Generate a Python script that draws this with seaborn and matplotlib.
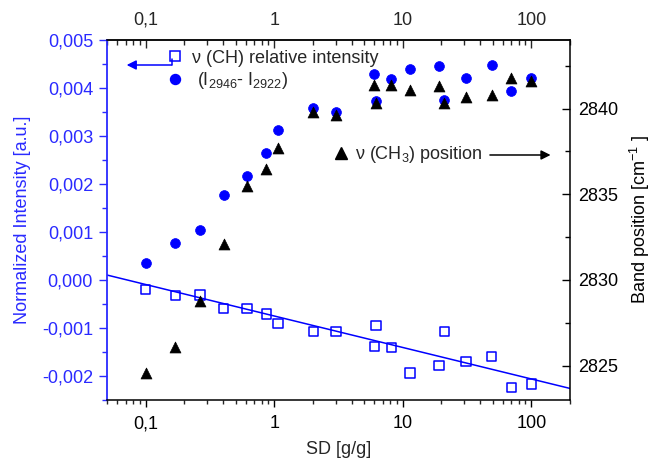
import numpy as np
import pandas as pd
import matplotlib
matplotlib.use("Agg")
import matplotlib.pyplot as plt
import seaborn as sns
from matplotlib.ticker import FixedLocator, FuncFormatter, LogLocator, MultipleLocator, NullFormatter
from matplotlib.lines import Line2D

# ---------------- data ----------------
sd = [0.1, 0.17, 0.265, 0.405, 0.614, 0.87, 1.07, 2.02, 3.02, 6.0, 6.2,
      8.16, 11.4, 19.1, 21.1, 31.0, 49.0, 70.0, 100.0]
intensity = [0.00035, 0.00078, 0.00104, 0.00177, 0.00217, 0.00265, 0.00312,
             0.00359, 0.00351, 0.00430, 0.00373, 0.00419, 0.00440, 0.00446,
             0.00374, 0.00421, 0.00447, 0.00394, 0.00421]
rel_intensity = [-0.00020, -0.00032, -0.00031, -0.00060, -0.00059, -0.00071,
                 -0.00090, -0.00108, -0.00108, -0.00138, -0.00095, -0.00140,
                 -0.00194, -0.00178, -0.00108, -0.00170, -0.00159, -0.00224,
                 -0.00217]
band_pos = [2824.6, 2826.1, 2828.8, 2832.1, 2835.5, 2836.5, 2837.7, 2839.8,
            2839.6, 2841.4, 2840.3, 2841.4, 2841.1, 2841.3, 2840.35, 2840.7,
            2840.8, 2841.8, 2841.6]
fit_slope = -0.000656      # per decade of SD
fit_intercept = -0.00075   # value at SD = 1
x_range = [0.05, 200]

x_tick_vals = [0.1, 1, 10, 100]
x_tick_labels = ["0,1", "1", "10", "100"]

BLUE = "#0000ff"
AXBLUE = "#2a2aff"
FS = 13

sns.set_style("ticks")
plt.rcParams["font.family"] = ["Liberation Sans", "DejaVu Sans"]
plt.rcParams["mathtext.fontset"] = "custom"
plt.rcParams["mathtext.rm"] = "Liberation Sans"
plt.rcParams["mathtext.it"] = "Liberation Sans:italic"
plt.rcParams["mathtext.bf"] = "Liberation Sans:bold"
plt.rcParams["font.size"] = FS

fig = plt.figure(figsize=(6.54, 4.67), dpi=100)
ax = fig.add_axes([0.1636, 0.1435, 0.7080, 0.7708])
ax2 = ax.twinx()

df = pd.DataFrame({"sd": sd, "int": intensity, "rel": rel_intensity, "band": band_pos})

# fit line
xf = np.array(x_range)
fit_df = pd.DataFrame({"x": xf, "y": fit_intercept + fit_slope * np.log10(xf)})
sns.lineplot(data=fit_df, x="x", y="y", ax=ax, color=BLUE, lw=1.1, zorder=2)

# open squares
sns.scatterplot(data=df, x="sd", y="rel", ax=ax, marker="s", s=45,
                color=BLUE, linewidth=1.1, zorder=3)
sq = ax.collections[-1]
sq.set_facecolor("none")
sq.set_edgecolor(BLUE)

# filled circles
sns.scatterplot(data=df, x="sd", y="int", ax=ax, marker="o", s=50,
                color=BLUE, edgecolor=BLUE, linewidth=0.5, zorder=3)

# triangles on right axis
sns.scatterplot(data=df, x="sd", y="band", ax=ax2, marker="^", s=62,
                color="black", edgecolor="black", linewidth=0.5, zorder=3)

# ---------------- axes ----------------
ax.set_xscale("log")
ax.set_xlim(*x_range)
ax.set_ylim(-0.0025, 0.005)
ax2.set_ylim(2823, 2844)

fmt_x = FuncFormatter(lambda v, p: x_tick_labels[x_tick_vals.index(v)] if v in x_tick_vals else "")
ax.xaxis.set_major_locator(FixedLocator(x_tick_vals))
ax.xaxis.set_major_formatter(fmt_x)
ax.xaxis.set_minor_locator(LogLocator(base=10, subs=np.arange(2, 10)))
ax.xaxis.set_minor_formatter(NullFormatter())

ax.yaxis.set_major_locator(MultipleLocator(0.001))
ax.yaxis.set_minor_locator(MultipleLocator(0.0005))
ax.yaxis.set_major_formatter(FuncFormatter(lambda v, p: f"{v:.3f}".replace(".", ",").replace("-0,000", "0,000")))

ax2.yaxis.set_major_locator(FixedLocator([2825, 2830, 2835, 2840]))
ax2.yaxis.set_minor_locator(MultipleLocator(2.5))

for s in ["top", "bottom", "right"]:
    ax.spines[s].set_color("black")
    ax.spines[s].set_linewidth(1.1)
ax.spines["left"].set_color(AXBLUE)
ax.spines["left"].set_linewidth(1.3)
ax.spines["right"].set_visible(False)
for s in ["left", "top", "bottom"]:
    ax2.spines[s].set_visible(False)
ax2.spines["right"].set_color("black")
ax2.spines["right"].set_linewidth(1.1)

ax.tick_params(axis="x", which="major", direction="out", length=5, width=1, pad=6, labelsize=FS, colors="black")
ax.tick_params(axis="x", which="minor", direction="out", length=3, width=1)
ax.tick_params(axis="y", which="major", direction="out", length=6, width=1, pad=4, labelsize=FS,
               colors=AXBLUE, right=False)
ax.tick_params(axis="y", which="minor", direction="out", length=3.5, width=1, colors=AXBLUE, right=False)

ax2.tick_params(axis="y", which="major", direction="in", length=6, width=1, pad=6, labelsize=FS, colors="black")
ax2.tick_params(axis="y", which="minor", direction="in", length=3.5, width=1, colors="black")

# top axis
top = ax.secondary_xaxis("top")
top.xaxis.set_major_locator(FixedLocator(x_tick_vals))
top.xaxis.set_major_formatter(fmt_x)
top.xaxis.set_minor_locator(LogLocator(base=10, subs=np.arange(2, 10)))
top.xaxis.set_minor_formatter(NullFormatter())
top.tick_params(axis="x", which="major", direction="in", length=6, width=1, pad=8, labelsize=FS)
top.tick_params(axis="x", which="minor", direction="in", length=3.5, width=1)
top.spines["top"].set_linewidth(1.1)

ax.set_xlabel("SD [g/g]", fontsize=FS)
ax.set_ylabel("Normalized Intensity [a.u.]", fontsize=FS, color=AXBLUE)
ax2.set_ylabel("Band position [cm$^{-1}$ ]", fontsize=FS, color="black")
ax.xaxis.set_label_coords(0.5, -0.115)
ax.yaxis.set_label_coords(-0.165, 0.5)
ax2.yaxis.set_label_coords(1.126, 0.5)

# ---------------- legends / annotations ----------------
h_sq = Line2D([], [], marker="s", ls="none", markersize=7, markerfacecolor="none",
              markeredgecolor=BLUE, markeredgewidth=1.1)
h_ci = Line2D([], [], marker="o", ls="none", markersize=7.2, markerfacecolor=BLUE,
              markeredgecolor=BLUE)
leg1 = ax.legend([h_sq, h_ci], ["\u03bd (CH) relative intensity", " (I$_{2946}$- I$_{2922}$)"],
                 loc="upper left", bbox_to_anchor=(0.133, 0.973), frameon=False,
                 fontsize=FS, handlelength=0.7, handletextpad=0.6, borderpad=0,
                 labelspacing=0.2, borderaxespad=0)

h_tr = Line2D([], [], marker="^", ls="none", markersize=8, markerfacecolor="black",
              markeredgecolor="black")
leg2 = ax2.legend([h_tr], ["\u03bd (CH$_3$) position"], loc="center left",
                  bbox_to_anchor=(0.4925, 0.6806), frameon=False, fontsize=FS,
                  handlelength=0.7, handletextpad=0.4, borderpad=0, borderaxespad=0)

# arrow to left axis
ax.annotate("", xy=(0.0425, 0.9306), xycoords="axes fraction",
            xytext=(0.1397, 0.9306), textcoords="axes fraction",
            arrowprops=dict(arrowstyle="-|>", color=BLUE, lw=1.1, mutation_scale=14,
                            shrinkA=0, shrinkB=0))
ax.plot([0.1397, 0.1397], [0.9306, 0.946], transform=ax.transAxes, color=BLUE, lw=1.1)

# arrow to right axis
ax2.annotate("", xy=(0.958, 0.6806), xycoords="axes fraction",
             xytext=(0.827, 0.6806), textcoords="axes fraction",
             arrowprops=dict(arrowstyle="-|>", color="black", lw=1.1, mutation_scale=14,
                             shrinkA=0, shrinkB=0))

fig.savefig("out.png", dpi=100)
